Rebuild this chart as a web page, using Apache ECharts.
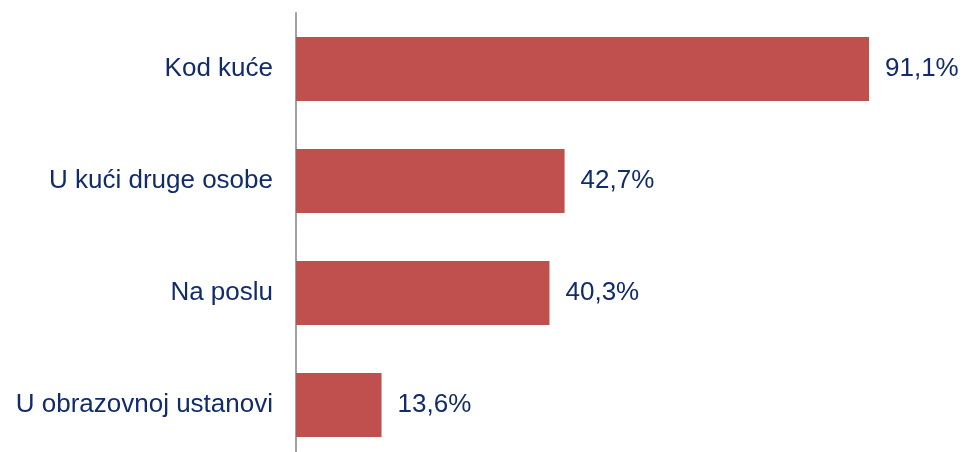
<!DOCTYPE html>
<html>
<head>
<meta charset="utf-8">
<script src="https://cdn.jsdelivr.net/npm/echarts@6/dist/echarts.min.js"></script>
<style>
	html, body { margin: 0; padding: 0; background: #fff; }
	#chart { width: 964px; height: 452px; }
</style>
</head>
<body>
<div id="chart"></div>
<script>
	var categories = ['Kod kuće', 'U kući druge osobe', 'Na poslu', 'U obrazovnoj ustanovi'];
	var values = [91.1, 42.7, 40.3, 13.6];

	var chart = echarts.init(document.getElementById('chart'));
	var option = {
		animation: false,
		grid: {
			left: 296,
			top: 13,
			width: 629,
			height: 448,
			outerBoundsMode: 'none'
		},
		xAxis: {
			type: 'value',
			min: 0,
			max: 100,
			show: false
		},
		yAxis: {
			type: 'category',
			data: categories,
			inverse: true,
			axisLine: { lineStyle: { color: '#a0a0a0', width: 2 } },
			axisTick: { show: false },
			axisLabel: {
				margin: 23,
				fontFamily: 'Liberation Sans, Arial, sans-serif',
				fontSize: 26,
				color: '#112c6a'
			}
		},
		series: [
			{
				type: 'bar',
				data: values,
				barCategoryGap: '43%',
				itemStyle: { color: '#c0504d' },
				label: {
					show: true,
					position: 'right',
					distance: 16,
					fontFamily: 'Liberation Sans, Arial, sans-serif',
					fontSize: 26,
					color: '#112c6a',
					formatter: function (p) {
						return p.value.toFixed(1).replace('.', ',') + '%';
					}
				}
			}
		]
	};
	chart.setOption(option);
</script>
</body>
</html>
